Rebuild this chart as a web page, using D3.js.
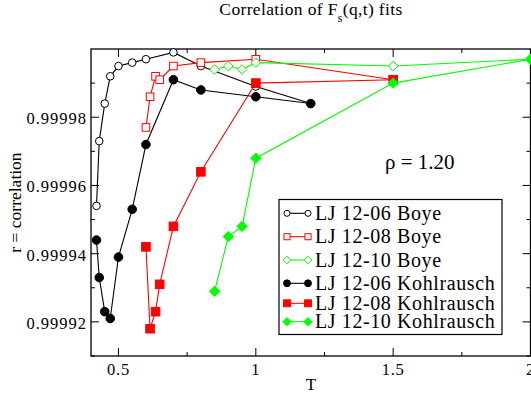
<!DOCTYPE html>
<html>
<head>
<meta charset="utf-8">
<script src="https://cdn.jsdelivr.net/npm/d3@7"></script>
<style>
  body { margin: 0; background: #fff; }
</style>
</head>
<body>
<script>
// Data
const t06 = [0.42, 0.43, 0.45, 0.47, 0.5, 0.55, 0.6, 0.7, 0.8, 1.0, 1.2];
const rBoye06 = [0.999954, 0.999973, 0.999984, 0.999992, 0.999995, 0.999996, 0.999997, 0.999999, 0.999995, 0.999989, 0.999984];
const rKohl06 = [0.999944, 0.999933, 0.999923, 0.999921, 0.999939, 0.999953, 0.999972, 0.999991, 0.999988, 0.999986, 0.999984];

const t08 = [0.6, 0.615, 0.635, 0.65, 0.7, 0.8, 1.0, 1.5];
const rBoye08 = [0.999977, 0.999986, 0.999992, 0.999991, 0.999995, 0.999996, 0.999997, 0.999991];
const rKohl08 = [0.999942, 0.999918, 0.999923, 0.999931, 0.999948, 0.999964, 0.999990, 0.999991];

const t10 = [0.85, 0.9, 0.95, 1.0, 1.5, 2.0];
const rBoye10 = [0.999994, 0.999995, 0.999994, 0.999996, 0.999995, 0.999997];
const rKohl10 = [0.999929, 0.999945, 0.999948, 0.999968, 0.999990, 0.999997];

const xTicks = [0.5, 1, 1.5, 2];
const xMinor = [0.75, 1.25, 1.75];
const yTicks = [0.99992, 0.99994, 0.99996, 0.99998];
const yMinor = [0.99991, 0.99993, 0.99995, 0.99997, 0.99999];

const seriesNames = ["LJ 12-06 Boye", "LJ 12-08 Boye", "LJ 12-10 Boye",
                     "LJ 12-06 Kohlrausch", "LJ 12-08 Kohlrausch", "LJ 12-10 Kohlrausch"];

const series = [
  {name: seriesNames[0], t: t06, r: rBoye06, color: "#000000", shape: "circle", filled: false},
  {name: seriesNames[1], t: t08, r: rBoye08, color: "#ff0000", shape: "square", filled: false},
  {name: seriesNames[2], t: t10, r: rBoye10, color: "#00ff00", shape: "diamond", filled: false},
  {name: seriesNames[3], t: t06, r: rKohl06, color: "#000000", shape: "circle", filled: true},
  {name: seriesNames[4], t: t08, r: rKohl08, color: "#ff0000", shape: "square", filled: true},
  {name: seriesNames[5], t: t10, r: rKohl10, color: "#00ff00", shape: "diamond", filled: true}
];

// Main
const svgwidth = 531;
const svgheight = 397;
const plotLeft = 91, plotRight = 530.5, plotTop = 49, plotBottom = 356;
const serif = "'Liberation Serif', 'Times New Roman', Times, 'DejaVu Serif', serif";

let svg = d3.select("body").append("svg")
    .attr("width", svgwidth)
    .attr("height", svgheight)
    .attr("font-family", serif)
    .style("font-family", serif);

let xScale = d3.scaleLinear().domain([0.4, 2]).range([plotLeft, plotRight]);
let yScale = d3.scaleLinear().domain([0.99991, 1.0]).range([plotBottom, plotTop]);

// frame
svg.append("rect")
    .attr("x", plotLeft).attr("y", plotTop)
    .attr("width", plotRight - plotLeft).attr("height", plotBottom - plotTop)
    .attr("fill", "none").attr("stroke", "#000").attr("stroke-width", 1.3);

// ticks, inward on all four sides
function hTicks(vals, len) {
  vals.forEach(v => {
    let x = xScale(v);
    svg.append("line").attr("x1", x).attr("x2", x).attr("y1", plotBottom).attr("y2", plotBottom - len)
        .attr("stroke", "#000");
    svg.append("line").attr("x1", x).attr("x2", x).attr("y1", plotTop).attr("y2", plotTop + len)
        .attr("stroke", "#000");
  });
}
function vTicks(vals, len) {
  vals.forEach(v => {
    let y = yScale(v);
    svg.append("line").attr("x1", plotLeft).attr("x2", plotLeft + len).attr("y1", y).attr("y2", y)
        .attr("stroke", "#000");
    svg.append("line").attr("x1", plotRight).attr("x2", plotRight - len).attr("y1", y).attr("y2", y)
        .attr("stroke", "#000");
  });
}
hTicks(xTicks, 8);
hTicks(xMinor, 4);
vTicks(yTicks, 8);
vTicks(yMinor, 4);

svg.selectAll(".xlabel")
    .data(xTicks).enter()
    .append("text")
    .attr("class", "xlabel")
    .attr("x", d => xScale(d))
    .attr("y", 374.5)
    .attr("text-anchor", "middle")
    .style("font-size", "16.5px")
    .style("letter-spacing", "0.8px")
    .text(d => d3.format("")(d));

svg.selectAll(".ylabel")
    .data(yTicks).enter()
    .append("text")
    .attr("class", "ylabel")
    .attr("x", 87)
    .attr("y", d => yScale(d) + 7)
    .attr("text-anchor", "end")
    .style("font-size", "16.5px")
    .style("letter-spacing", "1px")
    .text(d => d3.format(".5f")(d));

// axis titles
svg.append("text")
    .attr("x", 311).attr("y", 390)
    .attr("text-anchor", "middle")
    .style("font-size", "17px")
    .text("T");

svg.append("text")
    .attr("transform", `translate(21, ${(plotTop + plotBottom) / 2}) rotate(-90)`)
    .attr("text-anchor", "middle")
    .style("font-size", "17.5px")
    .text("r = correlation");

// title
let title = svg.append("text")
    .attr("x", 311).attr("y", 15)
    .attr("text-anchor", "middle")
    .style("font-size", "17.5px")
    .style("letter-spacing", "0.35px");
title.append("tspan").text("Correlation of F");
title.append("tspan").attr("dy", 7).style("font-size", "12px").text("s");
title.append("tspan").attr("dy", -7).text("(q,t) fits");

// density annotation
svg.append("text")
    .attr("x", 385).attr("y", 169)
    .style("font-size", "21px")
    .text("\u03c1 = 1.20");

// markers
function drawMarker(g, shape, x, y, color, filled, k) {
  let m;
  if (shape === "circle") {
    m = g.append("circle").attr("cx", x).attr("cy", y).attr("r", (filled ? 4.3 : 3.8) * k);
  } else if (shape === "square") {
    let s = (filled ? 8.6 : 7.6) * k;
    m = g.append("rect").attr("x", x - s / 2).attr("y", y - s / 2).attr("width", s).attr("height", s);
  } else {
    let s = (filled ? 5.2 : 4.8) * k;
    m = g.append("path").attr("d", `M${x},${y - s}L${x + s},${y}L${x},${y + s}L${x - s},${y}Z`);
  }
  m.attr("fill", filled ? color : "#fff")
   .attr("stroke", color)
   .attr("stroke-width", 1);
}

let line = d3.line().x(d => xScale(d[0])).y(d => yScale(d[1]));

series.forEach(s => {
  let pts = s.t.map((t, i) => [t, s.r[i]]);
  let g = svg.append("g");
  g.append("path")
      .attr("d", line(pts))
      .attr("fill", "none")
      .attr("stroke", s.color)
      .attr("stroke-width", 1.1);
  pts.forEach(p => drawMarker(g, s.shape, xScale(p[0]), yScale(p[1]), s.color, s.filled, 1));
});

// legend
const legendRowY = [213.3, 236.7, 260, 283.3, 303.3, 321.7];
let lg = svg.append("g");
lg.append("rect")
    .attr("x", 279).attr("y", 199.5)
    .attr("width", 223).attr("height", 135)
    .attr("fill", "#fff").attr("stroke", "#000").attr("stroke-width", 1.2);

series.forEach((s, i) => {
  let y = legendRowY[i];
  lg.append("line")
      .attr("x1", 287).attr("x2", 308).attr("y1", y).attr("y2", y)
      .attr("stroke", s.color).attr("stroke-width", 1.1);
  drawMarker(lg, s.shape, 287, y, s.color, s.filled, 0.8);
  drawMarker(lg, s.shape, 308, y, s.color, s.filled, 0.8);
  lg.append("text")
      .attr("x", 315).attr("y", y + 6.7)
      .style("font-size", "20px")
      .style("letter-spacing", "0.6px")
      .text(s.name);
});
</script>
</body>
</html>
